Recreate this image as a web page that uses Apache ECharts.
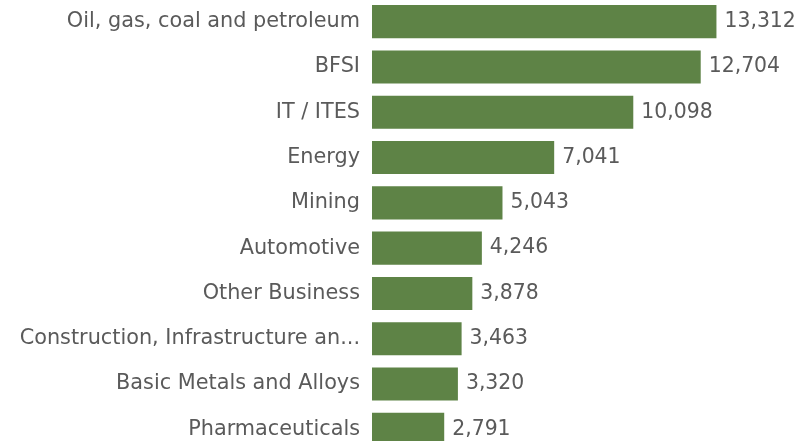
<!DOCTYPE html>
<html>
<head>
<meta charset="utf-8">
<script src="https://cdn.jsdelivr.net/npm/echarts@6/dist/echarts.min.js"></script>
<style>
  html, body { margin: 0; padding: 0; background: #ffffff; }
  #chart { width: 799px; height: 441px; }
</style>
</head>
<body>
<div id="chart"></div>
<script>
// Sectors, listed top to bottom
const sectors = [
  'Oil, gas, coal and petroleum',
  'BFSI',
  'IT / ITES',
  'Energy',
  'Mining',
  'Automotive',
  'Other Business',
  'Construction, Infrastructure an...',
  'Basic Metals and Alloys',
  'Pharmaceuticals'
];
const values = [13312, 12704, 10098, 7041, 5043, 4246, 3878, 3463, 3320, 2791];

const chart = echarts.init(document.getElementById('chart'), null, { renderer: 'canvas' });

const textColor = '#5a5a5a';
const fontFamily = 'DejaVu Sans';

chart.setOption({
  animation: false,
  backgroundColor: '#ffffff',
  grid: {
    left: 372, top: -1, width: 414, height: 453,
    containLabel: false,
    outerBoundsMode: 'none'
  },
  xAxis: {
    type: 'value',
    min: 0,
    max: 16000,
    show: false
  },
  yAxis: {
    type: 'category',
    data: sectors,
    inverse: true,
    axisLine: { show: false },
    axisTick: { show: false },
    splitLine: { show: false },
    axisLabel: { margin: 12, color: textColor, fontFamily: fontFamily, fontSize: 20.8 }
  },
  series: [{
    type: 'bar',
    data: values,
    barCategoryGap: '27%',
    itemStyle: { color: '#5e8346' },
    label: {
      show: true,
      position: 'right',
      distance: 8,
      color: textColor,
      fontFamily: fontFamily,
      fontSize: 20.4,
      formatter: p => p.value.toLocaleString('en-US')
    }
  }]
});
</script>
</body>
</html>
